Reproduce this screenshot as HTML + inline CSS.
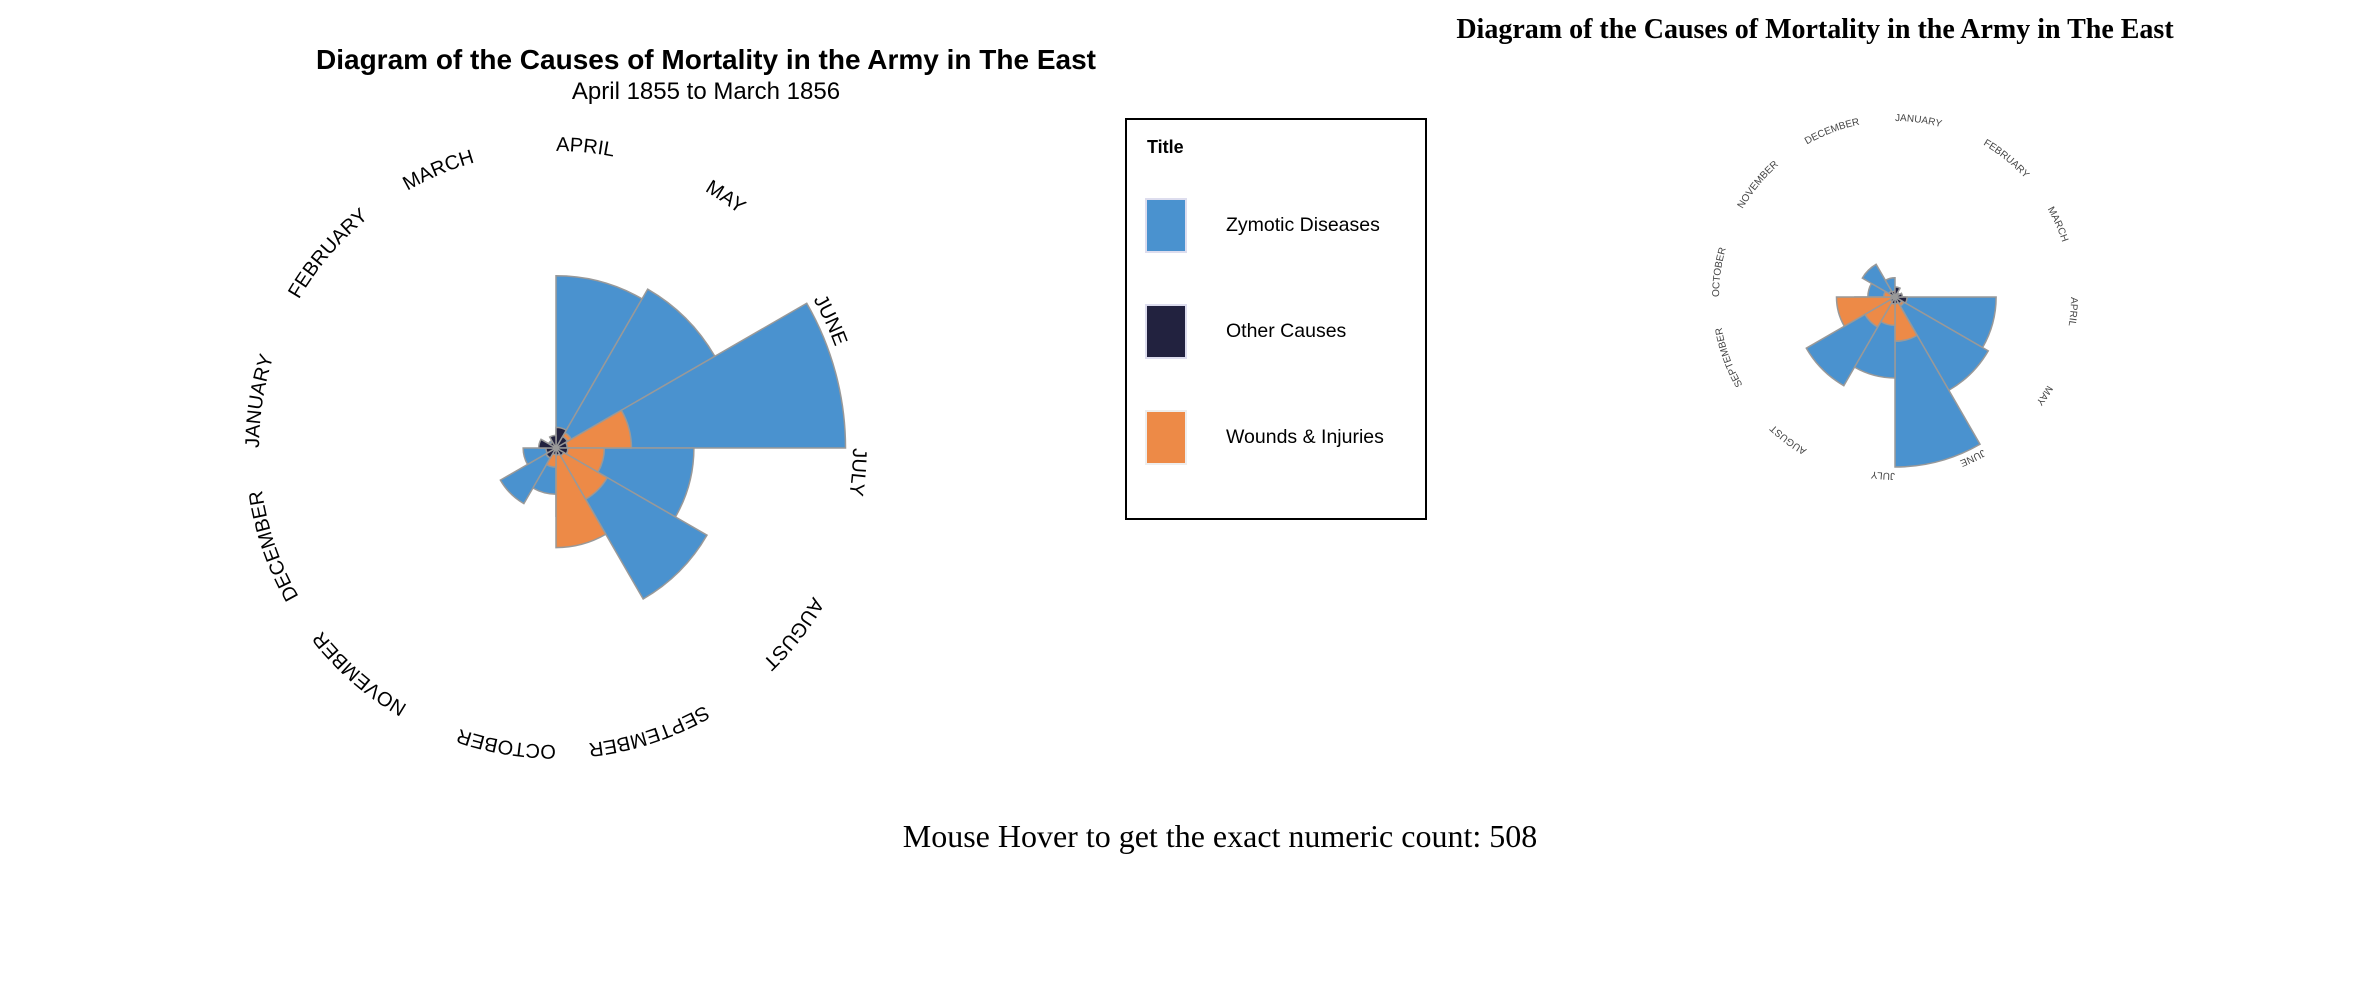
<!DOCTYPE html>
<html><head><meta charset="utf-8"><style>
html,body{margin:0;padding:0;background:#fff;}
body{width:2374px;height:995px;position:relative;overflow:hidden;}
svg{position:absolute;left:0;top:0;}
</style></head><body>
<svg id="chart" width="2374" height="995">
  <defs id="defs"></defs>
  <text x="706" y="69" text-anchor="middle" font-family="Liberation Sans, sans-serif" font-weight="bold" font-size="28">Diagram of the Causes of Mortality in the Army in The East</text>
  <text x="706" y="99" text-anchor="middle" font-family="Liberation Sans, sans-serif" font-size="24">April 1855 to March 1856</text>
  <g id="left"></g>
  <g id="right"></g>
  <text x="1815" y="38" text-anchor="middle" font-family="Liberation Serif, serif" font-weight="bold" font-size="28">Diagram of the Causes of Mortality in the Army in The East</text>
  <g>
    <rect x="1126" y="119" width="300" height="400" fill="#fff" stroke="#000" stroke-width="2"/>
    <text x="1147" y="153" font-family="Liberation Sans, sans-serif" font-weight="bold" font-size="18">Title</text>
    <rect x="1146" y="199" width="40" height="53" fill="#4a92cf" stroke="#dde" stroke-width="2"/>
    <text x="1226" y="231" font-family="Liberation Sans, sans-serif" font-size="19.5">Zymotic Diseases</text>
    <rect x="1146" y="305" width="40" height="53" fill="#22223f" stroke="#dde" stroke-width="2"/>
    <text x="1226" y="337" font-family="Liberation Sans, sans-serif" font-size="19.5">Other Causes</text>
    <rect x="1146" y="411" width="40" height="53" fill="#ed8a47" stroke="#eee" stroke-width="2"/>
    <text x="1226" y="443" font-family="Liberation Sans, sans-serif" font-size="19.5">Wounds &amp; Injuries</text>
  </g>
  <text x="1220" y="847" text-anchor="middle" font-family="Liberation Serif, serif" font-size="32">Mouse Hover to get the exact numeric count: 508</text>
</svg>
<script>
const months = ["APRIL","MAY","JUNE","JULY","AUGUST","SEPTEMBER","OCTOBER","NOVEMBER","DECEMBER","JANUARY","FEBRUARY","MARCH"];
const zymotic = [477,508,802,382,483,189,128,178,91,42,24,15];
const wounds = [48,49,209,134,164,276,53,33,18,2,0,0];
const other = [57,37,31,33,25,20,18,32,28,48,19,35];

const NS = "http://www.w3.org/2000/svg";
const series = [
  {vals: zymotic, color: "#4a92cf", key: "zymotic"},
  {vals: wounds, color: "#ed8a47", key: "wounds"},
  {vals: other, color: "#22223f", key: "other"}
];
function pt(cx, cy, r, a){ const t = a*Math.PI/180; return [cx + r*Math.sin(t), cy - r*Math.cos(t)]; }
function draw(g, cx, cy, k, startAng, labelR, fs, lblColor, prefix){
  const step = 360/months.length;
  const defs = document.getElementById("defs");
  series.forEach(s => {
    s.vals.forEach((v, i) => {
      const r = v*k;
      if (r <= 0) return;
      const a0 = startAng + i*step, a1 = a0 + step;
      const p0 = pt(cx, cy, r, a0), p1 = pt(cx, cy, r, a1);
      const p = document.createElementNS(NS, "path");
      p.setAttribute("d", `M${cx},${cy}L${p0[0]},${p0[1]}A${r},${r} 0 0 1 ${p1[0]},${p1[1]}Z`);
      p.setAttribute("fill", s.color);
      p.setAttribute("stroke", "#999");
      p.setAttribute("stroke-width", "1.5");
      
      
      g.appendChild(p);
    });
  });
  months.forEach((m, i) => {
    const a0 = startAng + i*step, a1 = a0 + 2*step;
    const q0 = pt(cx, cy, labelR, a0), q1 = pt(cx, cy, labelR, a1);
    const id = prefix + "-arc-" + i;
    const arc = document.createElementNS(NS, "path");
    arc.setAttribute("id", id);
    arc.setAttribute("d", `M${q0[0]},${q0[1]}A${labelR},${labelR} 0 0 1 ${q1[0]},${q1[1]}`);
    arc.setAttribute("fill", "none");
    defs.appendChild(arc);
    const t = document.createElementNS(NS, "text");
    t.setAttribute("font-family", "Liberation Sans, sans-serif");
    t.setAttribute("font-size", fs);
    t.setAttribute("fill", lblColor);
    
    
    const tp = document.createElementNS(NS, "textPath");
    tp.setAttribute("href", "#" + id);
    tp.textContent = m;
    t.appendChild(tp);
    g.appendChild(t);
  });
}
draw(document.getElementById("left"), 556, 448, 0.361, 0, 297, 20, "#000", "left");
draw(document.getElementById("right"), 1895, 297, 0.212, 90, 176, 10, "#444", "right");
</script>
</body></html>
